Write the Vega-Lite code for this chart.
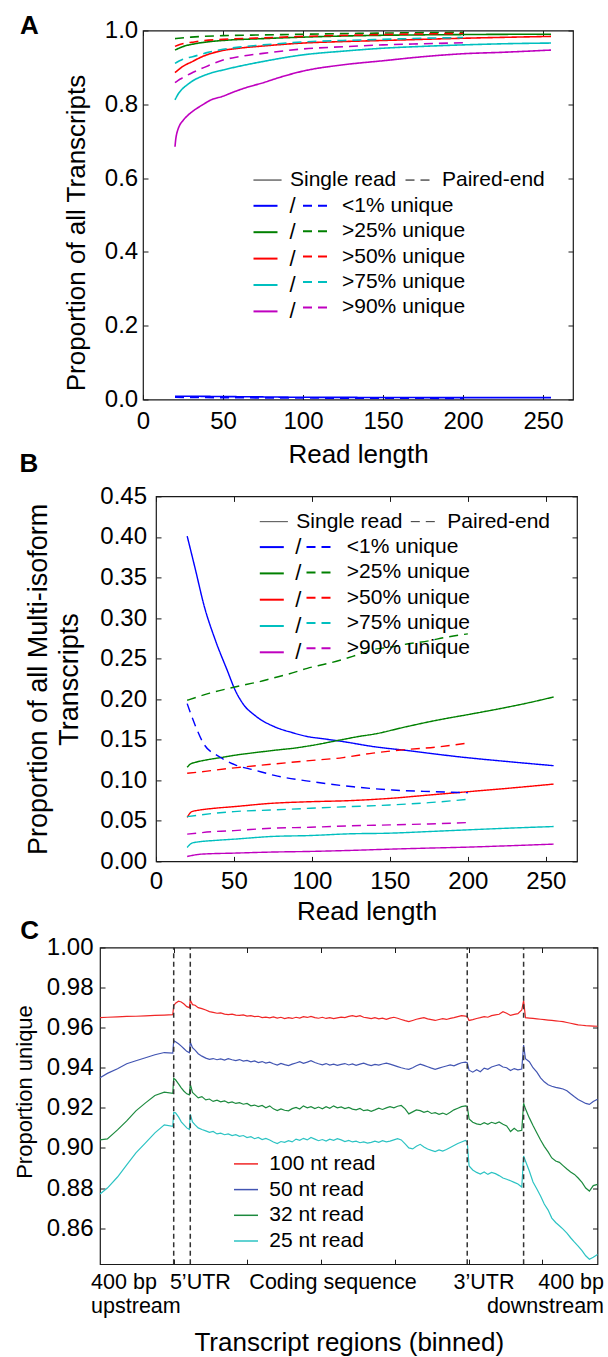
{
 "$schema": "https://vega.github.io/schema/vega-lite/v6.json",
 "background": "white",
 "padding": {"left": 0, "top": 12.5, "right": 0, "bottom": 0},
 "spacing": -18.1,
 "resolve": {"scale": {"color": "independent", "strokeDash": "independent"}},
 "config": {
  "view": {"stroke": "#1a1a1a", "strokeWidth": 1.2},
  "axis": {"grid": false, "domain": false, "labelColor": "black", "titleColor": "black", "tickColor": "#1a1a1a", "tickWidth": 1, "tickSize": -5, "titleFontWeight": "normal", "labelFlush": false, "labelOverlap": false, "labelBound": false, "labelFont": "Liberation Sans", "titleFont": "Liberation Sans"},
  "legend": {"padding": 0, "labelColor": "black", "labelLimit": 400, "labelFont": "Liberation Sans"}
 },
 "datasets": {
  "a": [
   {"cat":"<1% unique","type":"Single read","x":20,"y":0.009},{"cat":"<1% unique","type":"Single read","x":30,"y":0.0088},{"cat":"<1% unique","type":"Single read","x":50,"y":0.008},{"cat":"<1% unique","type":"Single read","x":75,"y":0.007},{"cat":"<1% unique","type":"Single read","x":100,"y":0.006},{"cat":"<1% unique","type":"Single read","x":150,"y":0.0055},{"cat":"<1% unique","type":"Single read","x":200,"y":0.005},{"cat":"<1% unique","type":"Single read","x":255,"y":0.005},
   {"cat":"<1% unique","type":"Paired-end","x":20,"y":0.006},{"cat":"<1% unique","type":"Paired-end","x":50,"y":0.005},{"cat":"<1% unique","type":"Paired-end","x":100,"y":0.004},{"cat":"<1% unique","type":"Paired-end","x":150,"y":0.0035},{"cat":"<1% unique","type":"Paired-end","x":200,"y":0.003},
   {"cat":">25% unique","type":"Single read","x":20,"y":0.947},{"cat":">25% unique","type":"Single read","x":22,"y":0.951},{"cat":">25% unique","type":"Single read","x":26,"y":0.958},{"cat":">25% unique","type":"Single read","x":30,"y":0.962},{"cat":">25% unique","type":"Single read","x":35,"y":0.966},{"cat":">25% unique","type":"Single read","x":40,"y":0.969},{"cat":">25% unique","type":"Single read","x":50,"y":0.973},{"cat":">25% unique","type":"Single read","x":75,"y":0.978},{"cat":">25% unique","type":"Single read","x":100,"y":0.982},{"cat":">25% unique","type":"Single read","x":125,"y":0.985},{"cat":">25% unique","type":"Single read","x":150,"y":0.987},{"cat":">25% unique","type":"Single read","x":200,"y":0.989},{"cat":">25% unique","type":"Single read","x":255,"y":0.99},
   {"cat":">25% unique","type":"Paired-end","x":20,"y":0.978},{"cat":">25% unique","type":"Paired-end","x":30,"y":0.982},{"cat":">25% unique","type":"Paired-end","x":50,"y":0.986},{"cat":">25% unique","type":"Paired-end","x":75,"y":0.988},{"cat":">25% unique","type":"Paired-end","x":100,"y":0.99},{"cat":">25% unique","type":"Paired-end","x":150,"y":0.993},{"cat":">25% unique","type":"Paired-end","x":200,"y":0.995},
   {"cat":">50% unique","type":"Single read","x":20,"y":0.886},{"cat":">50% unique","type":"Single read","x":22,"y":0.893},{"cat":">50% unique","type":"Single read","x":24,"y":0.9},{"cat":">50% unique","type":"Single read","x":27,"y":0.908},{"cat":">50% unique","type":"Single read","x":30,"y":0.914},{"cat":">50% unique","type":"Single read","x":34,"y":0.923},{"cat":">50% unique","type":"Single read","x":38,"y":0.931},{"cat":">50% unique","type":"Single read","x":42,"y":0.937},{"cat":">50% unique","type":"Single read","x":46,"y":0.942},{"cat":">50% unique","type":"Single read","x":50,"y":0.946},{"cat":">50% unique","type":"Single read","x":60,"y":0.952},{"cat":">50% unique","type":"Single read","x":75,"y":0.958},{"cat":">50% unique","type":"Single read","x":100,"y":0.966},{"cat":">50% unique","type":"Single read","x":125,"y":0.97},{"cat":">50% unique","type":"Single read","x":150,"y":0.973},{"cat":">50% unique","type":"Single read","x":200,"y":0.979},{"cat":">50% unique","type":"Single read","x":255,"y":0.984},
   {"cat":">50% unique","type":"Paired-end","x":20,"y":0.957},{"cat":">50% unique","type":"Paired-end","x":23,"y":0.962},{"cat":">50% unique","type":"Paired-end","x":27,"y":0.966},{"cat":">50% unique","type":"Paired-end","x":32,"y":0.969},{"cat":">50% unique","type":"Paired-end","x":37,"y":0.972},{"cat":">50% unique","type":"Paired-end","x":50,"y":0.976},{"cat":">50% unique","type":"Paired-end","x":75,"y":0.98},{"cat":">50% unique","type":"Paired-end","x":100,"y":0.984},{"cat":">50% unique","type":"Paired-end","x":150,"y":0.989},{"cat":">50% unique","type":"Paired-end","x":200,"y":0.992},
   {"cat":">75% unique","type":"Single read","x":20,"y":0.812},{"cat":">75% unique","type":"Single read","x":22,"y":0.828},{"cat":">75% unique","type":"Single read","x":24,"y":0.839},{"cat":">75% unique","type":"Single read","x":28,"y":0.854},{"cat":">75% unique","type":"Single read","x":32,"y":0.866},{"cat":">75% unique","type":"Single read","x":37,"y":0.876},{"cat":">75% unique","type":"Single read","x":42,"y":0.884},{"cat":">75% unique","type":"Single read","x":50,"y":0.893},{"cat":">75% unique","type":"Single read","x":60,"y":0.903},{"cat":">75% unique","type":"Single read","x":75,"y":0.916},{"cat":">75% unique","type":"Single read","x":100,"y":0.934},{"cat":">75% unique","type":"Single read","x":125,"y":0.944},{"cat":">75% unique","type":"Single read","x":150,"y":0.952},{"cat":">75% unique","type":"Single read","x":175,"y":0.957},{"cat":">75% unique","type":"Single read","x":200,"y":0.961},{"cat":">75% unique","type":"Single read","x":225,"y":0.964},{"cat":">75% unique","type":"Single read","x":255,"y":0.966},
   {"cat":">75% unique","type":"Paired-end","x":20,"y":0.911},{"cat":">75% unique","type":"Paired-end","x":22,"y":0.916},{"cat":">75% unique","type":"Paired-end","x":24,"y":0.92},{"cat":">75% unique","type":"Paired-end","x":27,"y":0.925},{"cat":">75% unique","type":"Paired-end","x":31,"y":0.929},{"cat":">75% unique","type":"Paired-end","x":40,"y":0.94},{"cat":">75% unique","type":"Paired-end","x":50,"y":0.949},{"cat":">75% unique","type":"Paired-end","x":60,"y":0.955},{"cat":">75% unique","type":"Paired-end","x":75,"y":0.961},{"cat":">75% unique","type":"Paired-end","x":100,"y":0.969},{"cat":">75% unique","type":"Paired-end","x":125,"y":0.973},{"cat":">75% unique","type":"Paired-end","x":150,"y":0.976},{"cat":">75% unique","type":"Paired-end","x":175,"y":0.979},{"cat":">75% unique","type":"Paired-end","x":200,"y":0.981},
   {"cat":">90% unique","type":"Single read","x":20,"y":0.685},{"cat":">90% unique","type":"Single read","x":20.4,"y":0.703},{"cat":">90% unique","type":"Single read","x":21,"y":0.719},{"cat":">90% unique","type":"Single read","x":21.7,"y":0.73},{"cat":">90% unique","type":"Single read","x":23,"y":0.744},{"cat":">90% unique","type":"Single read","x":24.8,"y":0.755},{"cat":">90% unique","type":"Single read","x":28,"y":0.77},{"cat":">90% unique","type":"Single read","x":32,"y":0.784},{"cat":">90% unique","type":"Single read","x":37,"y":0.798},{"cat":">90% unique","type":"Single read","x":42.5,"y":0.812},{"cat":">90% unique","type":"Single read","x":50,"y":0.822},{"cat":">90% unique","type":"Single read","x":57,"y":0.834},{"cat":">90% unique","type":"Single read","x":65,"y":0.846},{"cat":">90% unique","type":"Single read","x":74,"y":0.857},{"cat":">90% unique","type":"Single read","x":87,"y":0.875},{"cat":">90% unique","type":"Single read","x":100,"y":0.89},{"cat":">90% unique","type":"Single read","x":125,"y":0.907},{"cat":">90% unique","type":"Single read","x":150,"y":0.918},{"cat":">90% unique","type":"Single read","x":175,"y":0.929},{"cat":">90% unique","type":"Single read","x":200,"y":0.937},{"cat":">90% unique","type":"Single read","x":225,"y":0.941},{"cat":">90% unique","type":"Single read","x":255,"y":0.947},
   {"cat":">90% unique","type":"Paired-end","x":20,"y":0.859},{"cat":">90% unique","type":"Paired-end","x":22,"y":0.865},{"cat":">90% unique","type":"Paired-end","x":24,"y":0.87},{"cat":">90% unique","type":"Paired-end","x":26,"y":0.875},{"cat":">90% unique","type":"Paired-end","x":31,"y":0.886},{"cat":">90% unique","type":"Paired-end","x":36,"y":0.896},{"cat":">90% unique","type":"Paired-end","x":41,"y":0.905},{"cat":">90% unique","type":"Paired-end","x":50,"y":0.92},{"cat":">90% unique","type":"Paired-end","x":60,"y":0.929},{"cat":">90% unique","type":"Paired-end","x":75,"y":0.938},{"cat":">90% unique","type":"Paired-end","x":100,"y":0.95},{"cat":">90% unique","type":"Paired-end","x":125,"y":0.956},{"cat":">90% unique","type":"Paired-end","x":150,"y":0.961},{"cat":">90% unique","type":"Paired-end","x":175,"y":0.964},{"cat":">90% unique","type":"Paired-end","x":200,"y":0.967}
  ],
  "b": [
   {"cat":"<1% unique","type":"Single read","x":20,"y":0.401},{"cat":"<1% unique","type":"Single read","x":25.5,"y":0.358},{"cat":"<1% unique","type":"Single read","x":30.6,"y":0.317},{"cat":"<1% unique","type":"Single read","x":38.2,"y":0.272},{"cat":"<1% unique","type":"Single read","x":45.8,"y":0.235},{"cat":"<1% unique","type":"Single read","x":50.8,"y":0.211},{"cat":"<1% unique","type":"Single read","x":55.9,"y":0.194},{"cat":"<1% unique","type":"Single read","x":63.4,"y":0.18},{"cat":"<1% unique","type":"Single read","x":76,"y":0.166},{"cat":"<1% unique","type":"Single read","x":87,"y":0.159},{"cat":"<1% unique","type":"Single read","x":97,"y":0.154},{"cat":"<1% unique","type":"Single read","x":108,"y":0.151},{"cat":"<1% unique","type":"Single read","x":119,"y":0.148},{"cat":"<1% unique","type":"Single read","x":140,"y":0.1414},{"cat":"<1% unique","type":"Single read","x":162,"y":0.1365},{"cat":"<1% unique","type":"Single read","x":194,"y":0.129},{"cat":"<1% unique","type":"Single read","x":226,"y":0.123},{"cat":"<1% unique","type":"Single read","x":255,"y":0.118},
   {"cat":"<1% unique","type":"Paired-end","x":20,"y":0.1945},{"cat":"<1% unique","type":"Paired-end","x":25.5,"y":0.166},{"cat":"<1% unique","type":"Paired-end","x":30.6,"y":0.145},{"cat":"<1% unique","type":"Paired-end","x":40.7,"y":0.129},{"cat":"<1% unique","type":"Paired-end","x":50.8,"y":0.119},{"cat":"<1% unique","type":"Paired-end","x":63.4,"y":0.1125},{"cat":"<1% unique","type":"Paired-end","x":76,"y":0.106},{"cat":"<1% unique","type":"Paired-end","x":101.3,"y":0.098},{"cat":"<1% unique","type":"Paired-end","x":126.6,"y":0.092},{"cat":"<1% unique","type":"Paired-end","x":151.8,"y":0.088},{"cat":"<1% unique","type":"Paired-end","x":177,"y":0.086},{"cat":"<1% unique","type":"Paired-end","x":200,"y":0.0847},
   {"cat":">25% unique","type":"Single read","x":20,"y":0.116},{"cat":">25% unique","type":"Single read","x":22,"y":0.12},{"cat":">25% unique","type":"Single read","x":25,"y":0.122},{"cat":">25% unique","type":"Single read","x":32,"y":0.125},{"cat":">25% unique","type":"Single read","x":41.5,"y":0.128},{"cat":">25% unique","type":"Single read","x":51,"y":0.131},{"cat":">25% unique","type":"Single read","x":61,"y":0.1335},{"cat":">25% unique","type":"Single read","x":76,"y":0.137},{"cat":">25% unique","type":"Single read","x":90,"y":0.14},{"cat":">25% unique","type":"Single read","x":100,"y":0.143},{"cat":">25% unique","type":"Single read","x":118,"y":0.1496},{"cat":">25% unique","type":"Single read","x":130,"y":0.154},{"cat":">25% unique","type":"Single read","x":140,"y":0.157},{"cat":">25% unique","type":"Single read","x":160,"y":0.1658},{"cat":">25% unique","type":"Single read","x":180,"y":0.174},{"cat":">25% unique","type":"Single read","x":203,"y":0.182},{"cat":">25% unique","type":"Single read","x":225,"y":0.19},{"cat":">25% unique","type":"Single read","x":240,"y":0.196},{"cat":">25% unique","type":"Single read","x":255,"y":0.2027},
   {"cat":">25% unique","type":"Paired-end","x":20,"y":0.1987},{"cat":">25% unique","type":"Paired-end","x":27,"y":0.203},{"cat":">25% unique","type":"Paired-end","x":34.5,"y":0.2075},{"cat":">25% unique","type":"Paired-end","x":46,"y":0.213},{"cat":">25% unique","type":"Paired-end","x":54,"y":0.2165},{"cat":">25% unique","type":"Paired-end","x":65,"y":0.221},{"cat":">25% unique","type":"Paired-end","x":75,"y":0.226},{"cat":">25% unique","type":"Paired-end","x":85,"y":0.231},{"cat":">25% unique","type":"Paired-end","x":97,"y":0.238},{"cat":">25% unique","type":"Paired-end","x":110,"y":0.244},{"cat":">25% unique","type":"Paired-end","x":118,"y":0.248},{"cat":">25% unique","type":"Paired-end","x":128,"y":0.254},{"cat":">25% unique","type":"Paired-end","x":139,"y":0.261},{"cat":">25% unique","type":"Paired-end","x":150,"y":0.264},{"cat":">25% unique","type":"Paired-end","x":161,"y":0.268},{"cat":">25% unique","type":"Paired-end","x":175,"y":0.272},{"cat":">25% unique","type":"Paired-end","x":185,"y":0.276},{"cat":">25% unique","type":"Paired-end","x":200,"y":0.2805},
   {"cat":">50% unique","type":"Single read","x":20,"y":0.0544},{"cat":">50% unique","type":"Single read","x":23,"y":0.0614},{"cat":">50% unique","type":"Single read","x":27,"y":0.063},{"cat":">50% unique","type":"Single read","x":37.5,"y":0.0655},{"cat":">50% unique","type":"Single read","x":50,"y":0.0675},{"cat":">50% unique","type":"Single read","x":74,"y":0.0716},{"cat":">50% unique","type":"Single read","x":99,"y":0.0736},{"cat":">50% unique","type":"Single read","x":124,"y":0.0749},{"cat":">50% unique","type":"Single read","x":150,"y":0.0777},{"cat":">50% unique","type":"Single read","x":175,"y":0.0818},{"cat":">50% unique","type":"Single read","x":200,"y":0.0859},{"cat":">50% unique","type":"Single read","x":225,"y":0.09},{"cat":">50% unique","type":"Single read","x":255,"y":0.0953},
   {"cat":">50% unique","type":"Paired-end","x":20,"y":0.1086},{"cat":">50% unique","type":"Paired-end","x":31.5,"y":0.111},{"cat":">50% unique","type":"Paired-end","x":46.5,"y":0.1145},{"cat":">50% unique","type":"Paired-end","x":54,"y":0.116},{"cat":">50% unique","type":"Paired-end","x":75,"y":0.12},{"cat":">50% unique","type":"Paired-end","x":96,"y":0.1238},{"cat":">50% unique","type":"Paired-end","x":120,"y":0.128},{"cat":">50% unique","type":"Paired-end","x":139,"y":0.1335},{"cat":">50% unique","type":"Paired-end","x":161,"y":0.138},{"cat":">50% unique","type":"Paired-end","x":180,"y":0.141},{"cat":">50% unique","type":"Paired-end","x":200,"y":0.146},
   {"cat":">75% unique","type":"Single read","x":20,"y":0.0172},{"cat":">75% unique","type":"Single read","x":23,"y":0.0225},{"cat":">75% unique","type":"Single read","x":27,"y":0.024},{"cat":">75% unique","type":"Single read","x":37.5,"y":0.0258},{"cat":">75% unique","type":"Single read","x":50,"y":0.0274},{"cat":">75% unique","type":"Single read","x":74,"y":0.0307},{"cat":">75% unique","type":"Single read","x":99,"y":0.0319},{"cat":">75% unique","type":"Single read","x":124,"y":0.034},{"cat":">75% unique","type":"Single read","x":150,"y":0.0348},{"cat":">75% unique","type":"Single read","x":175,"y":0.0368},{"cat":">75% unique","type":"Single read","x":200,"y":0.0389},{"cat":">75% unique","type":"Single read","x":225,"y":0.0409},{"cat":">75% unique","type":"Single read","x":255,"y":0.043},
   {"cat":">75% unique","type":"Paired-end","x":20,"y":0.0552},{"cat":">75% unique","type":"Paired-end","x":37.5,"y":0.0593},{"cat":">75% unique","type":"Paired-end","x":50,"y":0.0614},{"cat":">75% unique","type":"Paired-end","x":74,"y":0.0634},{"cat":">75% unique","type":"Paired-end","x":99,"y":0.0655},{"cat":">75% unique","type":"Paired-end","x":124,"y":0.0675},{"cat":">75% unique","type":"Paired-end","x":150,"y":0.0696},{"cat":">75% unique","type":"Paired-end","x":175,"y":0.0724},{"cat":">75% unique","type":"Paired-end","x":200,"y":0.0765},
   {"cat":">90% unique","type":"Single read","x":20,"y":0.0061},{"cat":">90% unique","type":"Single read","x":29.5,"y":0.009},{"cat":">90% unique","type":"Single read","x":50,"y":0.0102},{"cat":">90% unique","type":"Single read","x":74,"y":0.0115},{"cat":">90% unique","type":"Single read","x":99,"y":0.0123},{"cat":">90% unique","type":"Single read","x":124,"y":0.0135},{"cat":">90% unique","type":"Single read","x":150,"y":0.0151},{"cat":">90% unique","type":"Single read","x":175,"y":0.0164},{"cat":">90% unique","type":"Single read","x":200,"y":0.0176},{"cat":">90% unique","type":"Single read","x":225,"y":0.0192},{"cat":">90% unique","type":"Single read","x":255,"y":0.0213},
   {"cat":">90% unique","type":"Paired-end","x":20,"y":0.0336},{"cat":">90% unique","type":"Paired-end","x":37.5,"y":0.0368},{"cat":">90% unique","type":"Paired-end","x":50,"y":0.038},{"cat":">90% unique","type":"Paired-end","x":74,"y":0.0409},{"cat":">90% unique","type":"Paired-end","x":99,"y":0.0421},{"cat":">90% unique","type":"Paired-end","x":124,"y":0.0438},{"cat":">90% unique","type":"Paired-end","x":150,"y":0.045},{"cat":">90% unique","type":"Paired-end","x":175,"y":0.0462},{"cat":">90% unique","type":"Paired-end","x":200,"y":0.0479}
  ],
  "c": [
   {"x":0,"nt100":0.965,"nt50":0.935,"nt32":0.904,"nt25":0.877},
   {"x":4,"nt100":0.9652,"nt50":0.9372,"nt32":0.9045,"nt25":0.88},
   {"x":9.5,"nt100":0.9654,"nt50":0.9395,"nt32":0.909,"nt25":0.8855},
   {"x":14.5,"nt100":0.9656,"nt50":0.942,"nt32":0.9135,"nt25":0.8915},
   {"x":19.5,"nt100":0.9657,"nt50":0.9435,"nt32":0.9185,"nt25":0.8975},
   {"x":24.7,"nt100":0.9659,"nt50":0.945,"nt32":0.9225,"nt25":0.9025},
   {"x":29.8,"nt100":0.9661,"nt50":0.9465,"nt32":0.9262,"nt25":0.9075},
   {"x":34.9,"nt100":0.9663,"nt50":0.9476,"nt32":0.9278,"nt25":0.9115},
   {"x":39.5,"nt100":0.9665,"nt50":0.9473,"nt32":0.9272,"nt25":0.9108},
   {"x":40,"nt100":0.971,"nt50":0.9535,"nt32":0.9347,"nt25":0.9177},
   {"x":41,"nt100":0.9722,"nt50":0.953,"nt32":0.934,"nt25":0.9175},
   {"x":42.6,"nt100":0.9732,"nt50":0.952,"nt32":0.932,"nt25":0.9155},
   {"x":44.1,"nt100":0.9728,"nt50":0.9508,"nt32":0.93,"nt25":0.913},
   {"x":45.6,"nt100":0.9718,"nt50":0.9495,"nt32":0.9283,"nt25":0.9115},
   {"x":47.1,"nt100":0.9705,"nt50":0.9482,"nt32":0.927,"nt25":0.91},
   {"x":48.5,"nt100":0.97,"nt50":0.9475,"nt32":0.9265,"nt25":0.9092},
   {"x":49,"nt100":0.9738,"nt50":0.9527,"nt32":0.9318,"nt25":0.9168},
   {"x":50.2,"nt100":0.9715,"nt50":0.95,"nt32":0.9277,"nt25":0.913},
   {"x":51.6,"nt100":0.9712,"nt50":0.9488,"nt32":0.9265,"nt25":0.9115},
   {"x":53.3,"nt100":0.97,"nt50":0.947,"nt32":0.925,"nt25":0.91},
   {"x":55.3,"nt100":0.9695,"nt50":0.9458,"nt32":0.9256,"nt25":0.9092},
   {"x":57.4,"nt100":0.9688,"nt50":0.9448,"nt32":0.924,"nt25":0.9085},
   {"x":59.4,"nt100":0.968,"nt50":0.9442,"nt32":0.9244,"nt25":0.9078},
   {"x":61.4,"nt100":0.9676,"nt50":0.9446,"nt32":0.9232,"nt25":0.9082},
   {"x":63.5,"nt100":0.9672,"nt50":0.944,"nt32":0.9238,"nt25":0.907},
   {"x":65.5,"nt100":0.9674,"nt50":0.9444,"nt32":0.923,"nt25":0.9074},
   {"x":67.6,"nt100":0.9668,"nt50":0.9438,"nt32":0.9235,"nt25":0.9066},
   {"x":69.6,"nt100":0.9665,"nt50":0.9445,"nt32":0.9225,"nt25":0.907},
   {"x":71.7,"nt100":0.9668,"nt50":0.944,"nt32":0.923,"nt25":0.9062},
   {"x":73.7,"nt100":0.9663,"nt50":0.9436,"nt32":0.9222,"nt25":0.9066},
   {"x":75.7,"nt100":0.9661,"nt50":0.9441,"nt32":0.9226,"nt25":0.9058},
   {"x":77.8,"nt100":0.9664,"nt50":0.9433,"nt32":0.9218,"nt25":0.9062},
   {"x":79.8,"nt100":0.9658,"nt50":0.9437,"nt32":0.9222,"nt25":0.9052},
   {"x":81.9,"nt100":0.966,"nt50":0.943,"nt32":0.921,"nt25":0.9056},
   {"x":83.9,"nt100":0.9655,"nt50":0.9434,"nt32":0.9214,"nt25":0.9046},
   {"x":85.9,"nt100":0.9657,"nt50":0.9426,"nt32":0.9206,"nt25":0.9052},
   {"x":88,"nt100":0.965,"nt50":0.9431,"nt32":0.9212,"nt25":0.9042},
   {"x":90,"nt100":0.9653,"nt50":0.9423,"nt32":0.92,"nt25":0.9048},
   {"x":92.1,"nt100":0.9649,"nt50":0.9428,"nt32":0.921,"nt25":0.904},
   {"x":94.1,"nt100":0.9654,"nt50":0.942,"nt32":0.9195,"nt25":0.903},
   {"x":96.2,"nt100":0.9648,"nt50":0.9413,"nt32":0.9186,"nt25":0.9022},
   {"x":98.2,"nt100":0.9652,"nt50":0.9422,"nt32":0.9195,"nt25":0.9032},
   {"x":100.2,"nt100":0.9645,"nt50":0.9416,"nt32":0.9188,"nt25":0.9028},
   {"x":102.3,"nt100":0.965,"nt50":0.9411,"nt32":0.9185,"nt25":0.9036},
   {"x":104.3,"nt100":0.9646,"nt50":0.9418,"nt32":0.9196,"nt25":0.903},
   {"x":106.4,"nt100":0.9652,"nt50":0.9424,"nt32":0.9202,"nt25":0.9044},
   {"x":108.4,"nt100":0.9648,"nt50":0.943,"nt32":0.9194,"nt25":0.9038},
   {"x":110.4,"nt100":0.9655,"nt50":0.9422,"nt32":0.921,"nt25":0.9048},
   {"x":112.5,"nt100":0.9651,"nt50":0.9428,"nt32":0.92,"nt25":0.904},
   {"x":114.5,"nt100":0.9656,"nt50":0.9435,"nt32":0.9206,"nt25":0.9052},
   {"x":116.6,"nt100":0.965,"nt50":0.9426,"nt32":0.9196,"nt25":0.9044},
   {"x":118.6,"nt100":0.9647,"nt50":0.942,"nt32":0.9204,"nt25":0.9036},
   {"x":120.7,"nt100":0.9652,"nt50":0.9415,"nt32":0.9195,"nt25":0.9042},
   {"x":122.7,"nt100":0.9646,"nt50":0.9421,"nt32":0.9206,"nt25":0.9034},
   {"x":124.7,"nt100":0.965,"nt50":0.9413,"nt32":0.9198,"nt25":0.9044},
   {"x":126.8,"nt100":0.9645,"nt50":0.9418,"nt32":0.921,"nt25":0.9038},
   {"x":128.8,"nt100":0.9649,"nt50":0.9412,"nt32":0.92,"nt25":0.9046},
   {"x":130.9,"nt100":0.9653,"nt50":0.9417,"nt32":0.9205,"nt25":0.904},
   {"x":132.9,"nt100":0.965,"nt50":0.9421,"nt32":0.9196,"nt25":0.9032},
   {"x":135,"nt100":0.9656,"nt50":0.9414,"nt32":0.9202,"nt25":0.9038},
   {"x":137,"nt100":0.966,"nt50":0.9419,"nt32":0.9194,"nt25":0.903},
   {"x":139,"nt100":0.9655,"nt50":0.9412,"nt32":0.919,"nt25":0.9034},
   {"x":141.1,"nt100":0.966,"nt50":0.9418,"nt32":0.9197,"nt25":0.9026},
   {"x":143.1,"nt100":0.9652,"nt50":0.9423,"nt32":0.9186,"nt25":0.903},
   {"x":145.2,"nt100":0.9649,"nt50":0.9416,"nt32":0.919,"nt25":0.9024},
   {"x":147.2,"nt100":0.9645,"nt50":0.9411,"nt32":0.9183,"nt25":0.9028},
   {"x":149.2,"nt100":0.965,"nt50":0.9417,"nt32":0.919,"nt25":0.9034},
   {"x":151.3,"nt100":0.9644,"nt50":0.9413,"nt32":0.9198,"nt25":0.9028},
   {"x":153.3,"nt100":0.9648,"nt50":0.9419,"nt32":0.9192,"nt25":0.9036},
   {"x":155.4,"nt100":0.9642,"nt50":0.9423,"nt32":0.92,"nt25":0.903},
   {"x":157.4,"nt100":0.9648,"nt50":0.9418,"nt32":0.9206,"nt25":0.9034},
   {"x":159.5,"nt100":0.9652,"nt50":0.9412,"nt32":0.92,"nt25":0.904},
   {"x":161.5,"nt100":0.9647,"nt50":0.9406,"nt32":0.9208,"nt25":0.9046},
   {"x":163.5,"nt100":0.9641,"nt50":0.94,"nt32":0.9212,"nt25":0.904},
   {"x":165.6,"nt100":0.9635,"nt50":0.9395,"nt32":0.9195,"nt25":0.902},
   {"x":167.6,"nt100":0.963,"nt50":0.9392,"nt32":0.917,"nt25":0.9},
   {"x":169.7,"nt100":0.9636,"nt50":0.94,"nt32":0.918,"nt25":0.8995},
   {"x":171.7,"nt100":0.9642,"nt50":0.941,"nt32":0.919,"nt25":0.9008},
   {"x":173.8,"nt100":0.9646,"nt50":0.9418,"nt32":0.9186,"nt25":0.9018},
   {"x":175.8,"nt100":0.965,"nt50":0.9412,"nt32":0.9178,"nt25":0.9005},
   {"x":177.8,"nt100":0.9644,"nt50":0.9405,"nt32":0.9184,"nt25":0.8995},
   {"x":179.9,"nt100":0.964,"nt50":0.9398,"nt32":0.9172,"nt25":0.8988},
   {"x":181.9,"nt100":0.9636,"nt50":0.9392,"nt32":0.9176,"nt25":0.8982},
   {"x":184,"nt100":0.9641,"nt50":0.9398,"nt32":0.9168,"nt25":0.899},
   {"x":186,"nt100":0.9645,"nt50":0.9404,"nt32":0.9174,"nt25":0.8984},
   {"x":188,"nt100":0.9641,"nt50":0.9409,"nt32":0.9166,"nt25":0.8992},
   {"x":190.1,"nt100":0.9646,"nt50":0.9414,"nt32":0.9178,"nt25":0.9002},
   {"x":192.1,"nt100":0.965,"nt50":0.941,"nt32":0.919,"nt25":0.9012},
   {"x":194.2,"nt100":0.9655,"nt50":0.9418,"nt32":0.9198,"nt25":0.9022},
   {"x":196.2,"nt100":0.966,"nt50":0.9425,"nt32":0.9206,"nt25":0.903},
   {"x":198.3,"nt100":0.9658,"nt50":0.9428,"nt32":0.921,"nt25":0.9038},
   {"x":199.3,"nt100":0.9656,"nt50":0.9425,"nt32":0.9208,"nt25":0.903},
   {"x":200.3,"nt100":0.9636,"nt50":0.9388,"nt32":0.9145,"nt25":0.891},
   {"x":202.3,"nt100":0.964,"nt50":0.9378,"nt32":0.9128,"nt25":0.889},
   {"x":204.4,"nt100":0.9646,"nt50":0.939,"nt32":0.912,"nt25":0.8878},
   {"x":206.4,"nt100":0.965,"nt50":0.938,"nt32":0.9116,"nt25":0.887},
   {"x":208.5,"nt100":0.9655,"nt50":0.9398,"nt32":0.9126,"nt25":0.888},
   {"x":210.5,"nt100":0.9652,"nt50":0.9392,"nt32":0.9118,"nt25":0.8868},
   {"x":212.5,"nt100":0.966,"nt50":0.9404,"nt32":0.9128,"nt25":0.8878},
   {"x":214.6,"nt100":0.9664,"nt50":0.941,"nt32":0.9122,"nt25":0.8872},
   {"x":216.6,"nt100":0.9667,"nt50":0.9415,"nt32":0.913,"nt25":0.8862},
   {"x":218.7,"nt100":0.968,"nt50":0.9404,"nt32":0.9118,"nt25":0.885},
   {"x":220.7,"nt100":0.9672,"nt50":0.94,"nt32":0.911,"nt25":0.8844},
   {"x":222.8,"nt100":0.9661,"nt50":0.9386,"nt32":0.9082,"nt25":0.8836},
   {"x":224.8,"nt100":0.9666,"nt50":0.9396,"nt32":0.9098,"nt25":0.8828},
   {"x":226.8,"nt100":0.967,"nt50":0.939,"nt32":0.9084,"nt25":0.882},
   {"x":228.9,"nt100":0.9688,"nt50":0.9394,"nt32":0.9088,"nt25":0.8805},
   {"x":229.9,"nt100":0.9735,"nt50":0.9513,"nt32":0.9223,"nt25":0.896},
   {"x":230.9,"nt100":0.965,"nt50":0.9445,"nt32":0.9195,"nt25":0.8935},
   {"x":233,"nt100":0.9648,"nt50":0.943,"nt32":0.915,"nt25":0.8885},
   {"x":235,"nt100":0.9646,"nt50":0.94,"nt32":0.9112,"nt25":0.883},
   {"x":237.1,"nt100":0.9644,"nt50":0.9378,"nt32":0.9075,"nt25":0.8795},
   {"x":239.1,"nt100":0.9642,"nt50":0.935,"nt32":0.904,"nt25":0.876},
   {"x":241.1,"nt100":0.964,"nt50":0.933,"nt32":0.9008,"nt25":0.872},
   {"x":243.2,"nt100":0.9638,"nt50":0.9315,"nt32":0.898,"nt25":0.869},
   {"x":245.2,"nt100":0.9636,"nt50":0.9308,"nt32":0.895,"nt25":0.865},
   {"x":247.3,"nt100":0.9634,"nt50":0.9302,"nt32":0.8935,"nt25":0.8628},
   {"x":249.3,"nt100":0.9632,"nt50":0.9298,"nt32":0.8928,"nt25":0.8612},
   {"x":251.3,"nt100":0.963,"nt50":0.9294,"nt32":0.8912,"nt25":0.8595},
   {"x":253.4,"nt100":0.9626,"nt50":0.9285,"nt32":0.8895,"nt25":0.8575},
   {"x":255.4,"nt100":0.9622,"nt50":0.927,"nt32":0.888,"nt25":0.8552},
   {"x":257.5,"nt100":0.9618,"nt50":0.9255,"nt32":0.8868,"nt25":0.853},
   {"x":259.5,"nt100":0.9614,"nt50":0.9242,"nt32":0.885,"nt25":0.851},
   {"x":261.6,"nt100":0.9612,"nt50":0.9232,"nt32":0.8828,"nt25":0.8488},
   {"x":263.6,"nt100":0.961,"nt50":0.9222,"nt32":0.88,"nt25":0.8462},
   {"x":265.6,"nt100":0.9609,"nt50":0.9217,"nt32":0.8785,"nt25":0.8445},
   {"x":267.7,"nt100":0.9608,"nt50":0.9232,"nt32":0.8812,"nt25":0.8455},
   {"x":270,"nt100":0.9607,"nt50":0.9243,"nt32":0.8818,"nt25":0.8468}
  ]
 },
 "vconcat": [
  {
   "spacing": 0,
   "resolve": {"scale": {"color": "independent", "strokeDash": "independent"}},
   "hconcat": [
    {"width": 19, "height": 1, "view": {"stroke": null}, "data": {"values": []}, "mark": "point"},
    {
     "width": 430, "height": 369,
     "title": {"text": "A", "anchor": "start", "frame": "group", "font": "Liberation Sans", "fontSize": 26, "fontWeight": "bold", "color": "black", "baseline": "alphabetic", "dx": -123, "offset": -41.6},
     "data": {"name": "a"},
     "resolve": {"scale": {"color": "independent"}, "axis": {"x": "independent", "y": "independent"}},
     "layer": [
      {
       "transform": [{"filter": "datum.type == 'Single read'"}],
       "mark": {"type": "line", "strokeWidth": 1.6, "interpolate": "monotone"},
       "encoding": {
        "x": {"field": "x", "type": "quantitative", "scale": {"domain": [0, 268.75], "nice": false, "zero": false},
              "axis": {"orient": "bottom", "values": [0, 50, 100, 150, 200, 250], "format": "d", "labelFontSize": 24, "labelPadding": 14.9, "title": "Read length", "titleFontSize": 26, "titlePadding": 8.2}},
        "y": {"field": "y", "type": "quantitative", "scale": {"domain": [0, 1], "nice": false, "zero": false},
              "axis": {"orient": "left", "values": [0, 0.2, 0.4, 0.6, 0.8, 1], "format": ".1f", "labelFontSize": 24, "labelPadding": 10.3, "title": "Proportion of all Transcripts", "titleFontSize": 26, "titleX": -54, "titleY": 202}},
        "color": {"field": "cat", "type": "nominal",
              "scale": {"domain": ["<1% unique", ">25% unique", ">50% unique", ">75% unique", ">90% unique"], "range": ["#0000ff", "#008000", "#ff0000", "#00bfbf", "#bf00bf"]},
              "legend": {"orient": "none", "legendX": 109.5, "legendY": 162.3, "title": null, "symbolType": "stroke", "symbolSize": 576, "symbolStrokeWidth": 2, "labelExpr": "'/'", "labelFontSize": 22, "labelOffset": 10.9, "rowPadding": 2.4}},
        "strokeDash": {"field": "type", "type": "nominal",
              "scale": {"domain": ["Single read", "Paired-end"], "range": [[1, 0], [9, 6]]},
              "legend": {"orient": "none", "legendX": 110, "legendY": 134.8, "title": null, "direction": "horizontal", "columns": 2, "symbolType": "stroke", "symbolSize": 784, "symbolStrokeColor": "black", "symbolStrokeWidth": 1, "labelFontSize": 21, "labelOffset": 8, "columnPadding": 6}}
       }
      },
      {
       "transform": [{"filter": "datum.type == 'Paired-end'"}],
       "mark": {"type": "line", "strokeWidth": 1.6, "strokeDash": [9, 6], "interpolate": "monotone"},
       "encoding": {
        "x": {"field": "x", "type": "quantitative", "scale": {"domain": [0, 268.75], "nice": false, "zero": false},
              "axis": {"orient": "top", "values": [0, 50, 100, 150, 200, 250], "labels": false, "title": null}},
        "y": {"field": "y", "type": "quantitative", "scale": {"domain": [0, 1], "nice": false, "zero": false},
              "axis": {"orient": "right", "values": [0, 0.2, 0.4, 0.6, 0.8, 1], "labels": false, "title": null, "minExtent": 0}},
        "color": {"field": "cat", "type": "nominal",
              "scale": {"domain": ["<1% unique", ">25% unique", ">50% unique", ">75% unique", ">90% unique"], "range": ["#0000ff", "#008000", "#ff0000", "#00bfbf", "#bf00bf"]},
              "legend": {"orient": "none", "legendX": 159, "legendY": 162.3, "title": null, "symbolType": "stroke", "symbolSize": 576, "symbolStrokeWidth": 2, "symbolDash": [9, 6], "labelFontSize": 21, "labelOffset": 14, "rowPadding": 2.4}}
       }
      }
     ]
    }
   ]
  },
  {
   "spacing": -8.9,
   "resolve": {"scale": {"color": "independent", "strokeDash": "independent"}},
   "vconcat": [
    {
     "spacing": 0,
     "resolve": {"scale": {"color": "independent", "strokeDash": "independent"}},
     "hconcat": [
      {"width": 18, "height": 1, "view": {"stroke": null}, "data": {"values": []}, "mark": "point"},
      {
       "width": 421, "height": 365,
       "title": {"text": "B", "anchor": "start", "frame": "group", "font": "Liberation Sans", "fontSize": 26, "fontWeight": "bold", "color": "black", "baseline": "alphabetic", "dx": -136.5, "offset": -13.6},
       "data": {"name": "b"},
       "resolve": {"scale": {"color": "independent"}, "axis": {"x": "independent", "y": "independent"}},
       "layer": [
        {
         "transform": [{"filter": "datum.type == 'Single read'"}],
         "mark": {"type": "line", "strokeWidth": 1.4, "interpolate": "monotone"},
         "encoding": {
          "x": {"field": "x", "type": "quantitative", "scale": {"domain": [0, 270], "nice": false, "zero": false},
                "axis": {"orient": "bottom", "values": [0, 50, 100, 150, 200, 250], "format": "d", "labelFontSize": 24, "labelPadding": 13.2, "title": "Read length", "titleFontSize": 26, "titlePadding": 4.9}},
          "y": {"field": "y", "type": "quantitative", "scale": {"domain": [0, 0.45], "nice": false, "zero": false},
                "axis": {"orient": "left", "values": [0, 0.05, 0.1, 0.15, 0.2, 0.25, 0.3, 0.35, 0.4, 0.45], "format": ".2f", "labelFontSize": 24, "labelPadding": 14.5, "title": ["Proportion of all Multi-isoform", "Transcripts"], "titleFontSize": 27, "titleLineHeight": 31, "titleX": -103.7}},
          "color": {"field": "cat", "type": "nominal",
                "scale": {"domain": ["<1% unique", ">25% unique", ">50% unique", ">75% unique", ">90% unique"], "range": ["#0000ff", "#008000", "#ff0000", "#00bfbf", "#bf00bf"]},
                "legend": {"orient": "none", "legendX": 102.8, "legendY": 37.7, "title": null, "symbolType": "stroke", "symbolSize": 576, "symbolStrokeWidth": 2, "labelExpr": "'/'", "labelFontSize": 22, "labelOffset": 10.4, "rowPadding": 2.3}},
          "strokeDash": {"field": "type", "type": "nominal",
                "scale": {"domain": ["Single read", "Paired-end"], "range": [[1, 0], [9, 6]]},
                "legend": {"orient": "none", "legendX": 103.3, "legendY": 10.5, "title": null, "direction": "horizontal", "columns": 2, "symbolType": "stroke", "symbolSize": 784, "symbolStrokeColor": "#333333", "symbolStrokeWidth": 1, "labelFontSize": 21, "labelOffset": 8, "columnPadding": 5}}
         }
        },
        {
         "transform": [{"filter": "datum.type == 'Paired-end'"}],
         "mark": {"type": "line", "strokeWidth": 1.4, "strokeDash": [9, 6], "interpolate": "monotone"},
         "encoding": {
          "x": {"field": "x", "type": "quantitative", "scale": {"domain": [0, 270], "nice": false, "zero": false},
                "axis": {"orient": "top", "values": [0, 50, 100, 150, 200, 250], "labels": false, "title": null}},
          "y": {"field": "y", "type": "quantitative", "scale": {"domain": [0, 0.45], "nice": false, "zero": false},
                "axis": {"orient": "right", "values": [0, 0.05, 0.1, 0.15, 0.2, 0.25, 0.3, 0.35, 0.4, 0.45], "labels": false, "title": null, "minExtent": 0}},
          "color": {"field": "cat", "type": "nominal",
                "scale": {"domain": ["<1% unique", ">25% unique", ">50% unique", ">75% unique", ">90% unique"], "range": ["#0000ff", "#008000", "#ff0000", "#00bfbf", "#bf00bf"]},
                "legend": {"orient": "none", "legendX": 149.5, "legendY": 37.7, "title": null, "symbolType": "stroke", "symbolSize": 576, "symbolStrokeWidth": 2, "symbolDash": [9, 6], "labelFontSize": 21, "labelOffset": 15.3, "rowPadding": 2.3}}
         }
        }
       ]
      }
     ]
    },
    {
     "spacing": 0,
     "resolve": {"scale": {"color": "independent", "strokeDash": "independent"}},
     "hconcat": [
      {"width": 11.3, "height": 1, "view": {"stroke": null}, "data": {"values": []}, "mark": "point"},
      {
       "width": 497.5, "height": 316.7,
       "title": {"text": "C", "anchor": "start", "frame": "group", "font": "Liberation Sans", "fontSize": 26, "fontWeight": "bold", "color": "black", "baseline": "alphabetic", "dx": -79.7, "offset": -29},
       "resolve": {"axis": {"x": "independent", "y": "independent"}},
       "layer": [
        {
         "data": {"name": "c"},
         "transform": [{"fold": ["nt100", "nt50", "nt32", "nt25"], "as": ["read", "y"]}],
         "mark": {"type": "line", "strokeWidth": 1.2},
         "encoding": {
          "x": {"field": "x", "type": "quantitative", "scale": {"domain": [0, 270], "nice": false, "zero": false},
                "axis": {"orient": "bottom", "values": [0, 40, 54.2, 80, 120, 126.2, 160, 200, 208.1, 240, 270],
                         "labelExpr": "datum.value == 0 ? ['400 bp', 'upstream'] : datum.value == 54.2 ? '5’UTR' : datum.value == 126.2 ? 'Coding sequence' : datum.value == 208.1 ? '3’UTR' : datum.value == 270 ? ['400 bp', 'downstream'] : ''",
                         "labelAlign": {"condition": [{"test": "datum.value == 0", "value": "left"}, {"test": "datum.value == 270", "value": "right"}], "value": "center"},
                         "labelOffset": {"condition": [{"test": "datum.value == 0", "value": -9.4}, {"test": "datum.value == 270", "value": 6}], "value": 0},
                         "tickOpacity": {"condition": {"test": "indexof([40, 80, 120, 160, 200, 240], datum.value) >= 0", "value": 1}, "value": 0},
                         "labelFontSize": 21.5, "labelLineHeight": 24, "labelPadding": 12.7,
                         "title": "Transcript regions (binned)", "titleFontSize": 26, "titlePadding": 12.5}},
          "y": {"field": "y", "type": "quantitative", "scale": {"domain": [0.842, 1], "nice": false, "zero": false},
                "axis": {"orient": "left", "values": [0.86, 0.88, 0.9, 0.92, 0.94, 0.96, 0.98, 1], "format": ".2f", "labelFontSize": 24, "labelPadding": 12, "title": "Proportion unique", "titleFontSize": 22, "titleX": -63.7, "titleY": 144}},
          "color": {"field": "read", "type": "nominal",
                "scale": {"domain": ["nt100", "nt50", "nt32", "nt25"], "range": ["#f02626", "#4255b2", "#1c8a3e", "#2cc3c3"]},
                "legend": {"orient": "none", "legendX": 133, "legendY": 203.4, "title": null, "symbolType": "stroke", "symbolSize": 576, "symbolStrokeWidth": 1.5,
                           "labelExpr": "{'nt100': '100 nt read', 'nt50': '\u00a0\u00a050 nt read', 'nt32': '\u00a0\u00a032 nt read', 'nt25': '\u00a0\u00a025 nt read'}[datum.label]",
                           "labelFontSize": 21, "labelOffset": 10.3, "rowPadding": 2.7}}
         }
        },
        {
         "data": {"values": [{"x": 40}, {"x": 49}, {"x": 199.3}, {"x": 229.9}]},
         "mark": {"type": "rule", "strokeDash": [5, 3.5], "strokeWidth": 1.5, "color": "#333333"},
         "encoding": {
          "x": {"field": "x", "type": "quantitative", "axis": {"orient": "top", "values": [40, 80, 120, 160, 200, 240], "labels": false, "title": null}},
          "y": {"datum": 0.842, "type": "quantitative", "axis": {"orient": "right", "values": [0.86, 0.88, 0.9, 0.92, 0.94, 0.96, 0.98, 1], "labels": false, "title": null, "minExtent": 0}},
          "y2": {"datum": 1}
         }
        }
       ]
      }
     ]
    }
   ]
  }
 ]
}
